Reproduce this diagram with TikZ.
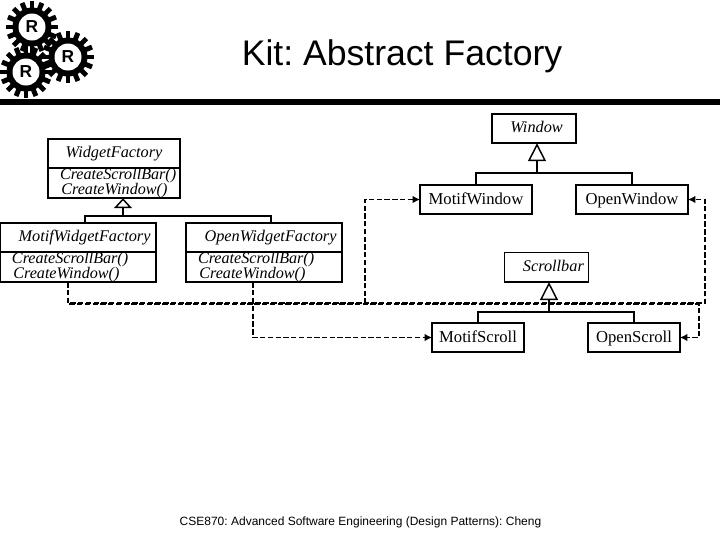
\documentclass[tikz,border=0pt]{standalone}
\usepackage{fontspec}
\setmainfont{Liberation Serif}
\newfontfamily\arialfont{Liberation Sans}
\usetikzlibrary{positioning,arrows.meta,calc}
\frenchspacing
\tikzset{
	classbox/.style={draw=black, line width=1.1pt, minimum width=#1*0.75pt, minimum height=22pt, text height=8pt, text depth=2.5pt, inner sep=0pt, outer sep=0pt},
	titlebox/.style={classbox=#1, text height=8.4pt, text depth=1.6pt, font=\fontsize{12.5}{13}\selectfont},
	abstractbox/.style={classbox=#1, font=\itshape\fontsize{12.2}{13}\selectfont},
	opsbox/.style={draw=black, line width=1.1pt, text width=#1*0.75pt, minimum height=22.5pt, inner sep=0pt, outer sep=0pt, align=left, font=\itshape\fontsize{12.1}{12}\selectfont},
	treeline/.style={line width=1.1pt},
	opentip/.style={treeline, -{Triangle[open, length=#1*0.75pt, width=13.5pt]}},
	createline/.style={dash pattern=on 4pt off 1.8pt, line width=0.8pt},
	createarrow/.style={createline, -{Latex[length=5.5pt, width=5.5pt]}},
	gearletter/.style={font=\arialfont\bfseries\fontsize{13}{13}\selectfont, inner sep=0pt}
}
\newcommand{\factoryops}{\hspace*{9pt}CreateScrollBar()\\[-1.4pt]\hspace*{10pt}CreateWindow()}
\newcommand{\gearteeth}[2]{%
	\fill[black] (#1,#2) circle (19.5);
	\foreach \a in {0,22.5,...,337.5}
		\draw[black, line width=3.7pt] ($(#1,#2)+(\a:17)$) -- ($(#1,#2)+(\a:26)$);
}
\begin{document}
\begin{tikzpicture}[x=0.75pt, y=-0.75pt]
	\useasboundingbox (0,0) rectangle (720,540);
	%logo
	\gearteeth{32}{27}
	\gearteeth{68}{57}
	\gearteeth{26}{72}
	\fill[white] (32,27) circle (13.5);
	\fill[white] (68,57) circle (13.5);
	\fill[white] (26,72) circle (13.5);
	\node[gearletter] (gearone) at (32,27) {R};
	\node[gearletter] (geartwo) at (68,57) {R};
	\node[gearletter] (gearthree) at (26,72) {R};
	\fill[black] (0,98.5) rectangle (720,104.5);
	
	\node[anchor=base, font=\arialfont\fontsize{26.7}{28}\selectfont] (title) at (402,65) {Kit: Abstract Factory};
	\node[anchor=base, font=\arialfont\fontsize{9}{10}\selectfont] (footer) at (360.5,525) {CSE870: Advanced Software Engineering (Design Patterns): Cheng};
	
	%Factories
	\node[abstractbox=132] (wf) at (114,153.5) {WidgetFactory};
	\node[opsbox=132, below=0pt of wf] (wfops) {\factoryops};
	\node[abstractbox=156] (mwf) at (78,237.5) {\hspace{9.8pt}MotifWidgetFactory};
	\node[opsbox=156, below=0pt of mwf] (mwfops) {\factoryops};
	\node[abstractbox=156] (owf) at (264,237.5) {\hspace{9.8pt}OpenWidgetFactory};
	\node[opsbox=156, below=0pt of owf] (owfops) {\factoryops};
	
	%Products
	\node[abstractbox=84] (window) at (534,128.5) {\hspace{3.8pt}Window};
	\node[titlebox=112] (mwin) at (476,199.5) {MotifWindow};
	\node[titlebox=112] (owin) at (632,199.5) {OpenWindow};
	\node[abstractbox=84] (scrollbar) at (546.4,267.4) {\hspace{10.5pt}Scrollbar};
	\node[titlebox=92] (mscroll) at (478,337.5) {MotifScroll};
	\node[titlebox=92] (oscroll) at (634,337.5) {OpenScroll};
	
	%Vererbung
	\coordinate (wfbar) at (123,216);
	\coordinate (wfleft) at (85,216);
	\coordinate (wfright) at (271,216);
	\draw[treeline] (wfleft |- mwf.north) -- (wfleft) -- (wfright) -- (wfright |- owf.north);
	\draw[opentip=10] (wfbar) -- (wfbar |- wfops.south);
	\coordinate (winbar) at (537,173);
	\draw[treeline] (mwin.north) |- (winbar) -| (owin.north);
	\draw[opentip=18] (winbar) -- (winbar |- window.south);
	\coordinate (scrollbarbar) at (549,312);
	\draw[treeline] (mscroll.north) |- (scrollbarbar) -| (oscroll.north);
	\draw[opentip=18] (scrollbarbar) -- (scrollbarbar |- scrollbar.south);
	
	%Erzeugung
	\coordinate (motifdrop) at (68,303);
	\coordinate (motiflow) at (68,304);
	\coordinate (opendrop) at (253,303);
	\coordinate (openlow) at (253,304);
	\coordinate (winturn) at (365,303);
	\coordinate (owinturn) at (705,303);
	\coordinate (oscrollturn) at (699,304);
	\draw[createarrow] (motifdrop |- mwfops.south) -- (motifdrop) -- (winturn) |- (mwin.west);
	\draw[createarrow] (motiflow |- mwfops.south) -- (motiflow) -- (openlow) |- (mscroll.west);
	\draw[createarrow] (opendrop |- owfops.south) -- (opendrop) -- (owinturn) |- (owin.east);
	\draw[createarrow] (openlow |- owfops.south) -- (openlow) -- (oscrollturn) |- (oscroll.east);
\end{tikzpicture}
\end{document}
